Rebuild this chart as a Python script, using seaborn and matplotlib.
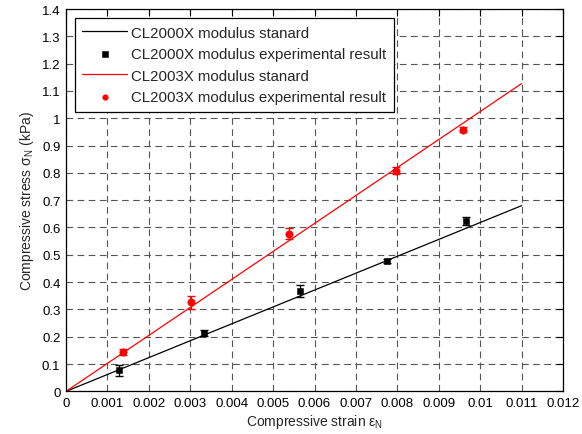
import numpy as np
import pandas as pd
import matplotlib
matplotlib.use("Agg")
import matplotlib.pyplot as plt
import seaborn as sns
from matplotlib.ticker import FuncFormatter

# standard (fitted) lines
line_x = [0.0, 0.011]
black_line_y = [0.0, 0.68]
red_line_y = [0.0, 1.127]

# experimental points
black_x = [0.00128, 0.00333, 0.00565, 0.00775, 0.00965]
black_y = [0.078, 0.213, 0.367, 0.478, 0.623]
black_err = [0.02, 0.01, 0.022, 0.008, 0.015]

red_x = [0.00137, 0.00302, 0.00539, 0.00797, 0.00958]
red_y = [0.144, 0.326, 0.577, 0.808, 0.958]
red_err = [0.012, 0.025, 0.02, 0.012, 0.01]

labels = ["CL2000X modulus stanard",
          "CL2000X modulus experimental result",
          "CL2003X modulus stanard",
          "CL2003X modulus experimental result"]

sns.set_style("white")
plt.rcParams["font.family"] = ["Liberation Sans", "DejaVu Sans"]
plt.rcParams["mathtext.fontset"] = "custom"
plt.rcParams["mathtext.rm"] = "Liberation Sans"
plt.rcParams["mathtext.it"] = "Liberation Sans"

fig = plt.figure(figsize=(5.82, 4.35), dpi=100)
ax = fig.add_axes([0.1134, 0.098, 0.854, 0.879])

lines_df = pd.DataFrame({"x": line_x, "black": black_line_y, "red": red_line_y})
pts_black = pd.DataFrame({"x": black_x, "y": black_y})
pts_red = pd.DataFrame({"x": red_x, "y": red_y})

sns.lineplot(data=lines_df, x="x", y="black", color="black", lw=0.9, ax=ax,
             label=labels[0])
ax.errorbar(black_x, black_y, yerr=black_err, fmt="none", ecolor="black",
            elinewidth=0.9, capsize=3)
sns.scatterplot(data=pts_black, x="x", y="y", marker="s", color="black",
                s=24, edgecolor="black", ax=ax, label=labels[1], zorder=5)
sns.lineplot(data=lines_df, x="x", y="red", color="red", lw=0.9, ax=ax,
             label=labels[2])
ax.errorbar(red_x, red_y, yerr=red_err, fmt="none", ecolor="red",
            elinewidth=0.9, capsize=3)
sns.scatterplot(data=pts_red, x="x", y="y", marker="o", color="red",
                s=28, edgecolor="red", ax=ax, label=labels[3], zorder=5)

ax.set_xlim(0, 0.012)
ax.set_ylim(0, 1.4)
ax.set_xticks(np.arange(0, 0.0121, 0.001))
ax.set_yticks(np.arange(0, 1.41, 0.1))
fmt = FuncFormatter(lambda v, p: "%g" % round(v, 4))
ax.xaxis.set_major_formatter(fmt)
ax.yaxis.set_major_formatter(fmt)
ax.tick_params(direction="in", top=True, right=True, length=5, width=0.8,
               labelsize=9.5, colors="black", pad=4)
for sp in ax.spines.values():
    sp.set_color("black")
    sp.set_linewidth(0.9)

ax.grid(True, color="#555555", linestyle=(0, (6, 4)), linewidth=0.8)
ax.set_axisbelow(True)

ax.set_xlabel("Compressive strain \u03b5$_\\mathrm{N}$", fontsize=10, labelpad=2)
ax.set_ylabel("Compressive stress \u03c3$_\\mathrm{N}$ (kPa)", fontsize=10, labelpad=4)

leg = ax.legend(loc="upper left", fontsize=10.8, frameon=True, fancybox=False,
                edgecolor="black", framealpha=1, borderaxespad=0.6,
                handlelength=3.0, handletextpad=0.25, labelspacing=0.5,
                borderpad=0.5, markerscale=0.75)
leg.get_frame().set_linewidth(0.9)

fig.savefig("out.png", dpi=100)
